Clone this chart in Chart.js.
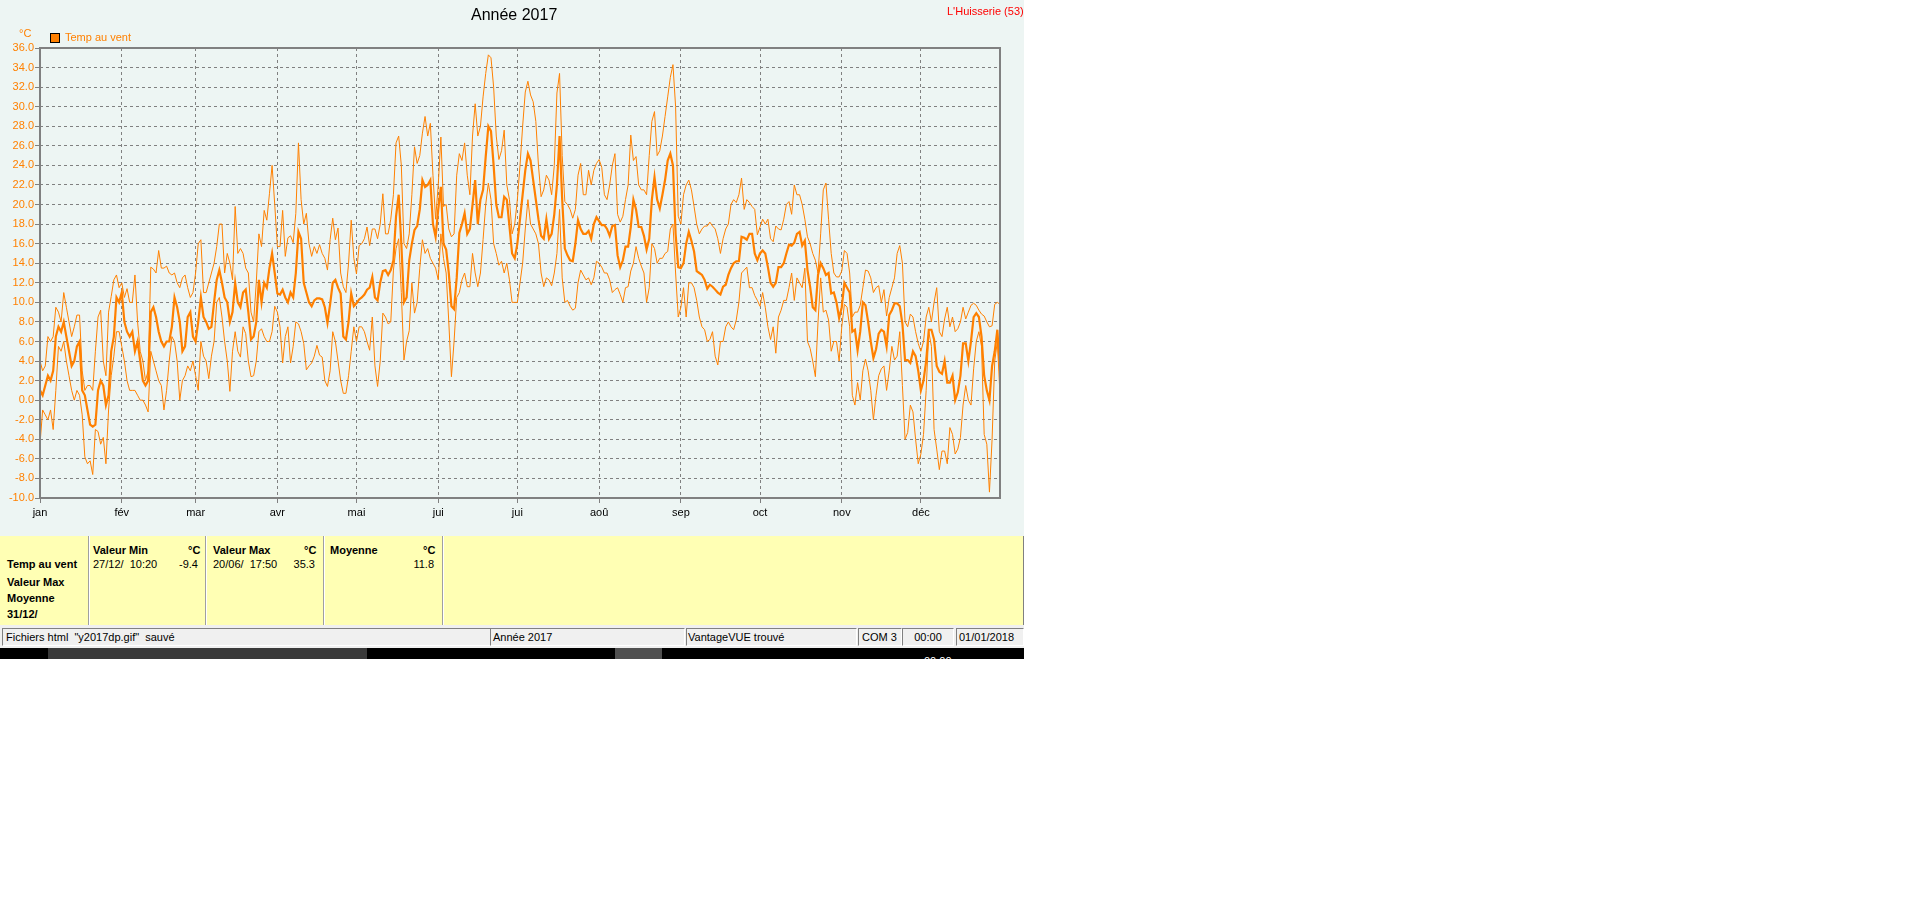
<html>
<head>
<meta charset="UTF-8">
<title>Année 2017</title>
<script src="https://cdn.jsdelivr.net/npm/chart.js@4/dist/chart.umd.min.js"></script>
<style>
    body { margin: 0; background: #fff; font-family: "Liberation Sans", Arial, sans-serif; font-size: 11px; }
    #win { position: absolute; left: 0; top: 0; width: 1024px; height: 660px; }
    #plotBox { position: absolute; left: 0; top: 0; width: 1024px; height: 536px; background: #EDF5F3; }
    #chartCanvas { position: absolute; left: 0; top: 0; }
    .abs { position: absolute; white-space: pre; line-height: 13px; }
    #table { position: absolute; left: 0; top: 536px; width: 1023px; height: 89px; background: #FFFFB4; border-right: 1px solid #808080; }
    .sep { position: absolute; top: 0; width: 1px; height: 89px; background: #A0A0A0; border-right: 1px solid #fff; }
    .b { font-weight: bold; }
    #status { position: absolute; left: 0; top: 625px; width: 1024px; height: 23px; background: #F0F0F0; }
    .pane { position: absolute; top: 3px; height: 16px; border-top: 1px solid #808080; border-left: 1px solid #808080; border-bottom: 1px solid #fff; border-right: 1px solid #fff; line-height: 16px; white-space: pre; overflow: hidden; }
    #taskbar { position: absolute; left: 0; top: 648px; width: 1024px; height: 11px; background: #000; overflow: hidden; }
</style>
</head>
<body>
<div id="win">
    <div id="plotBox">
        <canvas id="chartCanvas" width="1024" height="536"></canvas>
        <div class="abs" style="left:471px; top:6px; font-size:16px; line-height:18px; color:#000;">Année 2017</div>
        <div class="abs" style="left:947px; top:5px; color:#FF0000;">L'Huisserie (53)</div>
        <div class="abs" style="left:19px; top:27px; color:#FF8000;">°C</div>
        <div style="position:absolute; left:50px; top:33px; width:8px; height:8px; background:#FF8000; border:1px solid #000;"></div>
        <div class="abs" style="left:65px; top:31px; color:#FF8000;">Temp au vent</div>
    </div>

    <div id="table">
        <div class="abs b" style="left:7px; top:22px;">Temp au vent</div>
        <div class="abs b" style="left:7px; top:40px;">Valeur Max</div>
        <div class="abs b" style="left:7px; top:56px;">Moyenne</div>
        <div class="abs b" style="left:7px; top:72px;">31/12/</div>
        <div class="sep" style="left:88px;"></div>

        <div class="abs b" style="left:93px; top:8px;">Valeur Min</div>
        <div class="abs b" style="left:188px; top:8px;">°C</div>
        <div class="abs" style="left:93px; top:22px;">27/12/  10:20</div>
        <div class="abs" style="left:176px; top:22px; width:22px; text-align:right;">-9.4</div>
        <div class="sep" style="left:205px;"></div>

        <div class="abs b" style="left:213px; top:8px;">Valeur Max</div>
        <div class="abs b" style="left:304px; top:8px;">°C</div>
        <div class="abs" style="left:213px; top:22px;">20/06/  17:50</div>
        <div class="abs" style="left:289px; top:22px; width:26px; text-align:right;">35.3</div>
        <div class="sep" style="left:323px;"></div>

        <div class="abs b" style="left:330px; top:8px;">Moyenne</div>
        <div class="abs b" style="left:423px; top:8px;">°C</div>
        <div class="abs" style="left:408px; top:22px; width:26px; text-align:right;">11.8</div>
        <div class="sep" style="left:442px;"></div>
    </div>

    <div id="status">
        <div class="pane" style="left:2px; width:484px; padding-left:3px;">Fichiers html  "y2017dp.gif"  sauvé</div>
        <div class="pane" style="left:490px; width:191px; padding-left:2px;">Année 2017</div>
        <div class="pane" style="left:686px; width:168px; padding-left:1px;">VantageVUE trouvé</div>
        <div class="pane" style="left:858px; width:39px; padding-left:3px;">COM 3</div>
        <div class="pane" style="left:902px; width:50px; text-align:center;">00:00</div>
        <div class="pane" style="left:956px; width:64px; padding-left:2px;">01/01/2018</div>
    </div>

    <div id="taskbar">
        <div style="position:absolute; left:48px; top:0; width:319px; height:11px; background:#3A3A3A;"></div>
        <div style="position:absolute; left:615px; top:0; width:47px; height:11px; background:#505050;"></div>
        <div class="abs" style="left:924px; top:7px; color:#fff;">00:00</div>
    </div>
</div>

<script>
    // jours de début de mois (jan = 0)
    const monthStart = [0, 31, 59, 90, 120, 151, 181, 212, 243, 273, 304, 334];
    const monthLabels = ["jan", "fév", "mar", "avr", "mai", "jui", "jui", "aoû", "sep", "oct", "nov", "déc"];

    // Temp au vent - max journalier, 2017
    const tMax = [
        4.0, 3.0, 3.5, 6.5, 6.0, 6.5, 9.5, 9.0, 8.0, 11.0, 9.5, 8.0, 6.5, 7.5, 8.7, 8.7, 3.0, 1.0, 1.5, 1.5,
        1.0, 5.0, 8.5, 9.2, 4.0, 2.5, 9.0, 10.6, 12.3, 12.8, 11.5, 12.0, 10.5, 11.4, 10.0, 10.0, 12.8, 8.0, 5.0, 4.0,
        2.0, 3.0, 13.6, 13.4, 13.0, 15.3, 13.5, 13.5, 13.7, 13.0, 12.8, 13.0, 12.0, 11.5, 12.5, 12.8, 11.5, 10.5, 11.0, 13.0,
        16.0, 16.4,
        11.0, 11.0, 12.0, 13.0, 14.0, 15.7, 18.0, 18.0, 13.0, 15.0, 14.0, 12.3, 19.8, 15.0, 15.5, 15.0, 13.5, 13.0, 9.0, 8.0,
        12.0, 17.0, 15.7, 19.4, 18.4, 21.1, 24.0, 20.0, 15.7, 15.7, 19.4, 14.7, 16.6, 16.8, 16.1, 19.1, 26.3, 20.5, 18.0, 19.1,
        16.0, 14.7, 15.7, 15.0, 15.9, 15.0, 14.5, 13.3, 16.4, 18.6, 16.4, 17.6, 13.0, 11.6, 11.0, 14.0, 18.4, 14.5, 12.9,
        15.8, 16.0, 16.5, 17.7, 15.8, 17.5, 17.5, 16.5, 18.0, 21.1, 17.0, 17.0, 18.5, 21.0, 26.3, 27.0, 24.0, 16.0, 15.5, 17.0,
        21.0, 25.9, 24.2, 25.0, 27.3, 29.0, 27.0, 28.3, 23.0, 18.5, 22.0, 26.9, 19.8, 20.0, 17.5, 16.7, 17.0, 23.0, 25.2, 24.5,
        26.3, 23.0, 21.0, 27.0, 30.3, 27.0, 28.0, 31.0, 33.4, 35.3, 35.0, 32.0, 27.0, 24.6, 25.5, 27.6, 22.0, 20.5, 17.0,
        18.0, 20.5, 24.0, 28.0, 31.5, 32.6, 31.2, 30.5, 28.5, 24.0, 20.8, 21.5, 23.0, 22.5, 21.0, 24.0, 31.4, 33.4, 25.0, 20.3,
        20.0, 19.5, 18.6, 19.5, 23.0, 24.2, 21.0, 21.0, 23.5, 22.0, 23.5, 24.2, 24.6, 23.8, 21.0, 20.5, 22.0, 24.0, 25.2, 19.0,
        18.2, 18.8, 20.5, 22.0, 27.1, 24.5, 24.9, 22.0, 21.5, 21.5, 21.0, 25.0, 28.5, 29.5, 25.0, 25.5, 27.0, 29.0, 31.0, 33.0,
        34.3, 30.0, 18.8, 18.0,
        21.0, 22.0, 22.5, 21.5, 19.8, 18.0, 17.0, 17.5, 17.8, 17.8, 18.2, 17.8, 17.5, 16.5, 15.0, 16.5, 17.5, 18.0, 20.0, 20.5,
        20.2, 21.0, 22.7, 19.5, 20.5, 20.2, 19.8, 19.5, 16.9, 17.7, 18.5, 18.0, 18.5, 16.5, 16.2, 17.8, 17.5, 17.4, 18.5, 20.0,
        20.3, 19.0, 22.0, 21.0, 21.0, 20.0, 18.5, 16.7, 16.0, 15.0, 14.3, 13.0, 17.0, 21.5, 22.2, 18.5, 15.0, 13.0, 12.6,
        12.6, 13.2, 15.3, 15.0, 13.0, 8.5, 9.0, 9.0, 9.7, 11.5, 13.3, 13.2, 12.5, 11.0, 11.5, 11.7, 10.0, 11.3, 8.6, 10.5,
        11.5, 12.5, 15.0, 15.8, 14.0, 8.0, 7.5, 8.8, 8.5, 7.0, 5.8, 5.0, 6.0, 8.5, 9.5, 8.0, 10.0, 11.5, 7.0, 6.5,
        8.3, 9.5, 7.5, 8.5, 7.0, 7.3, 8.0, 9.5, 8.3, 9.0, 9.7, 9.9, 9.7, 9.2, 8.8, 8.6, 8.0, 7.5, 7.6, 9.8,
        10.0, 9.8
    ];

    // Temp au vent - min journalier
    const tMin = [
        -4.5, -1.0, -1.5, -2.0, -1.0, -3.0, 1.0, 5.5, 5.0, 6.0, 4.0, 2.5, 1.0, 0.0, 1.0, 0.5, -1.5, -5.8, -6.5, -6.2,
        -7.6, -3.0, -3.2, -4.5, -3.8, -6.5, -1.0, 2.5, 4.5, 7.0, 7.0, 5.5, 4.0, 2.0, 1.0, 1.0, 1.0, 0.5, 0.0, 0.0,
        -0.5, -1.2, 5.0, 4.0, 3.0, 2.0, 1.5, -1.0, 1.0, 4.0, 6.5, 6.0, 4.0, 0.0, 2.0, 2.5, 3.5, 3.0, 4.0, 2.5,
        1.0, 6.0,
        4.5, 4.0, 2.2, 4.5, 6.0, 10.0, 10.5, 8.5, 6.0, 4.0, 0.9, 5.0, 7.0, 5.0, 4.4, 7.5, 6.8, 4.0, 2.4, 2.5,
        4.0, 7.0, 7.3, 6.5, 6.0, 6.0, 7.0, 9.6, 9.0, 7.5, 3.8, 6.5, 7.5, 3.8, 5.5, 8.0, 7.8, 7.0, 5.8, 3.1,
        3.5, 3.8, 4.5, 5.6, 4.6, 4.4, 2.0, 1.4, 3.0, 7.0, 6.0, 4.0, 2.0, 0.7, 0.7, 2.5, 5.0, 7.5, 6.0,
        7.5, 7.5, 7.0, 6.0, 5.1, 8.5, 3.5, 1.4, 4.0, 8.9, 8.5, 7.8, 8.0, 13.3, 15.5, 16.5, 11.0, 4.1, 6.0, 7.1,
        12.0, 8.9, 10.0, 13.5, 16.4, 15.0, 15.5, 14.5, 14.0, 13.5, 12.3, 17.0, 14.5, 13.0, 8.0, 2.4, 6.0, 10.5, 11.0, 12.3,
        13.0, 11.6, 11.6, 15.0, 13.0, 11.6, 13.0, 16.4, 20.0, 22.2, 20.5, 16.0, 15.0, 13.8, 14.2, 13.0, 14.0, 12.3, 10.0,
        10.0, 10.0, 12.0, 14.0, 17.5, 20.5, 18.0, 17.5, 17.0, 16.0, 13.0, 11.6, 12.5, 12.3, 11.7, 13.0, 15.0, 19.5, 12.5, 10.0,
        10.2, 9.6, 9.2, 9.4, 12.0, 13.3, 12.8, 12.3, 12.5, 11.8, 12.5, 14.2, 14.0, 13.6, 13.0, 13.0, 12.3, 11.0, 11.3, 11.5,
        10.8, 10.0, 11.5, 11.6, 13.2, 14.0, 15.7, 14.5, 13.7, 13.0, 10.0, 11.5, 16.0, 15.5, 14.0, 14.5, 14.5, 15.0, 15.2, 17.5,
        18.0, 13.0, 8.5, 9.5,
        11.5, 8.5, 12.0, 12.0, 11.5, 10.2, 8.5, 7.5, 7.2, 6.0, 6.2, 7.0, 4.5, 3.6, 6.0, 6.0, 7.5, 8.0, 7.5, 7.2,
        8.2, 10.0, 13.0, 13.3, 13.6, 11.5, 11.5, 10.7, 10.2, 9.6, 11.0, 9.5, 7.5, 6.2, 7.5, 4.8, 8.5, 9.2, 10.2, 10.2,
        11.5, 13.0, 10.2, 12.5, 12.0, 11.5, 13.5, 6.0, 5.3, 4.0, 2.4, 8.0, 12.5, 9.0, 9.2, 8.2, 5.0, 6.0, 6.0,
        4.0, 7.5, 9.8, 9.5, 7.5, 0.5, -0.5, 1.8, 0.0, 3.0, 4.2, 3.0, 1.0, -2.0, 0.5, 2.5, 3.2, 3.5, 1.0, 3.0,
        5.5, 4.1, 4.5, 7.0, 1.5, -4.0, -3.3, -0.5, -1.2, -4.0, -6.5, -5.5, -3.5, 1.0, 7.0, 5.5, -3.0, -5.0, -7.1, -5.2,
        -5.2, -6.5, -2.8, -3.5, -5.5, -5.0, -3.8, -0.5, 1.5, 0.0, -0.5, 3.2, 6.0, 7.0, 5.5, -3.5, -4.5, -9.4, -4.0, 4.0,
        6.0, 0.5
    ];

    // Temp au vent - moyenne journalière
    const tMoy = [
        1.0, 0.5, 1.5, 2.5, 2.0, 3.0, 6.5, 7.5, 7.0, 8.0, 6.5, 5.0, 3.5, 4.0, 5.5, 6.0, 1.0, 0.5, -1.0, -2.5,
        -2.7, -2.5, 1.0, 2.0, 1.5, -0.5, 0.5, 5.0, 6.5, 10.5, 10.0, 11.0, 8.0, 7.0, 6.5, 7.0, 5.0, 6.0, 4.0, 2.0,
        1.5, 2.0, 9.0, 9.5, 8.5, 7.0, 6.0, 5.5, 6.0, 6.0, 7.5, 10.5, 9.5, 8.0, 5.0, 5.5, 8.5, 9.0, 6.5, 6.0,
        8.0, 10.5,
        8.5, 8.0, 7.3, 7.5, 10.0, 12.3, 13.3, 12.0, 10.5, 10.0, 8.0, 9.0, 12.0, 10.0, 9.5, 11.0, 11.3, 9.0, 6.2, 6.5,
        8.0, 12.3, 10.0, 12.0, 11.5, 13.5, 15.0, 13.0, 10.9, 10.8, 11.3, 10.5, 10.0, 11.0, 10.5, 13.0, 17.2, 16.5, 12.0, 11.0,
        10.0, 9.6, 10.2, 10.4, 10.4, 10.3, 9.5, 7.9, 9.8, 12.0, 12.3, 11.5, 10.9, 6.5, 6.2, 8.0, 10.9, 9.6, 9.9,
        10.3, 10.5, 10.8, 11.3, 11.5, 12.6, 10.5, 10.2, 12.0, 13.2, 13.3, 12.8, 13.3, 14.3, 18.8, 21.0, 16.0, 10.0, 10.5, 14.3,
        16.0, 17.4, 17.8, 19.5, 22.5, 21.8, 22.0, 22.5, 18.0, 16.7, 19.5, 21.8, 16.0, 15.4, 13.0, 9.6, 9.3, 12.5, 17.1, 18.0,
        19.1, 17.0, 17.5, 20.0, 22.5, 18.0, 20.5, 21.5, 24.9, 28.0, 27.5, 24.0, 20.0, 18.7, 18.7, 20.8, 20.5, 17.8, 15.0,
        14.5, 16.0, 18.5, 21.0, 23.5, 25.2, 24.5, 22.5, 20.5, 18.5, 16.8, 16.5, 18.5, 16.5, 17.0, 19.0, 22.0, 27.0, 20.5, 15.5,
        14.8, 14.3, 14.2, 16.0, 18.4, 17.5, 17.0, 17.0, 17.3, 16.5, 18.0, 18.7, 18.3, 17.9, 17.9, 17.5, 16.8, 17.8, 17.9, 14.8,
        13.6, 14.3, 15.7, 15.7, 17.7, 20.5, 19.5, 17.7, 17.7, 16.8, 15.4, 16.5, 20.5, 22.8, 20.5, 19.6, 21.0, 22.5, 24.5, 25.2,
        24.0, 17.0, 13.6, 13.5,
        14.0, 16.0, 17.2, 16.3, 15.2, 13.2, 13.0, 12.8, 12.3, 11.4, 11.8, 11.6, 11.3, 11.0, 10.8, 11.6, 11.8, 12.8, 13.5, 14.0,
        14.2, 14.2, 16.7, 16.6, 16.4, 17.0, 17.0, 15.0, 14.3, 15.0, 15.3, 15.0, 13.6, 12.0, 11.6, 12.0, 13.6, 13.6, 14.0, 15.0,
        15.9, 15.8, 16.1, 17.0, 17.2, 15.8, 16.3, 13.3, 11.6, 9.5, 9.2, 12.8, 14.0, 13.5, 12.8, 13.0, 10.9, 11.0, 10.0,
        8.4, 9.5, 12.0, 11.5, 11.0, 7.0, 7.2, 5.1, 7.0, 10.0, 9.7, 8.0, 6.0, 4.3, 5.2, 6.8, 7.2, 7.0, 5.5, 8.7,
        9.2, 9.9, 9.9, 9.6, 7.8, 4.1, 4.1, 3.8, 5.0, 4.5, 3.0, 1.0, 2.0, 4.0, 7.2, 7.2, 6.2, 3.5, 2.9, 2.7,
        4.0, 1.8, 1.8, 2.5, 0.0, 0.8, 2.5, 5.8, 5.8, 4.0, 6.0, 8.5, 8.9, 8.5, 6.5, 2.5, 1.0, 0.0, 3.5, 5.0,
        7.2, 3.0
    ];

    const orange = '#FF8000';
    const gridGrey = '#808080';

    function toPoints(arr) {
        return arr.map((v, i) => ({x: i, y: v}));
    }

    // cadre gris autour de la zone du graphe
    const framePlugin = {
        id: 'frame',
        afterDraw(chart) {
            const a = chart.chartArea;
            const ctx = chart.ctx;
            ctx.save();
            ctx.strokeStyle = gridGrey;
            ctx.lineWidth = 2;
            ctx.strokeRect(a.left, a.top, a.right - a.left, a.bottom - a.top);
            ctx.restore();
        }
    };

    Chart.defaults.font.family = '"Liberation Sans", Arial, sans-serif';
    Chart.defaults.font.size = 11;

    const lineBase = {
        borderColor: orange,
        backgroundColor: orange,
        pointRadius: 0,
        tension: 0,
        fill: false
    };

    window.chart = new Chart(document.getElementById('chartCanvas'), {
        type: 'line',
        data: {
            datasets: [
                Object.assign({label: 'Max', data: toPoints(tMax), borderWidth: 1}, lineBase),
                Object.assign({label: 'Min', data: toPoints(tMin), borderWidth: 1}, lineBase),
                Object.assign({label: 'Temp au vent', data: toPoints(tMoy), borderWidth: 2.2}, lineBase)
            ]
        },
        options: {
            responsive: false,
            animation: false,
            devicePixelRatio: 1,
            layout: {padding: {top: 48, right: 24, left: 0, bottom: 0}},
            plugins: {legend: {display: false}, tooltip: {enabled: false}, title: {display: false}},
            scales: {
                x: {
                    type: 'linear',
                    min: 0,
                    max: 364,
                    afterBuildTicks: (axis) => {
                        axis.ticks = monthStart.map(v => ({value: v}));
                    },
                    afterFit: (axis) => {
                        axis.height = 38;
                    },
                    ticks: {
                        autoSkip: false,
                        maxRotation: 0,
                        color: '#000',
                        padding: 3,
                        callback: (v) => monthLabels[monthStart.indexOf(v)]
                    },
                    grid: {color: gridGrey, tickLength: 5, tickColor: gridGrey, tickBorderDash: []},
                    border: {display: false, dash: [3, 3]}
                },
                y: {
                    min: -10,
                    max: 36,
                    afterFit: (axis) => {
                        axis.width = 40;
                    },
                    ticks: {
                        stepSize: 2,
                        color: orange,
                        padding: 1,
                        callback: (v) => v.toFixed(1)
                    },
                    grid: {color: gridGrey, tickLength: 5, tickColor: gridGrey, tickBorderDash: []},
                    border: {display: false, dash: [3, 3]}
                }
            }
        },
        plugins: [framePlugin]
    });
</script>
</body>
</html>
